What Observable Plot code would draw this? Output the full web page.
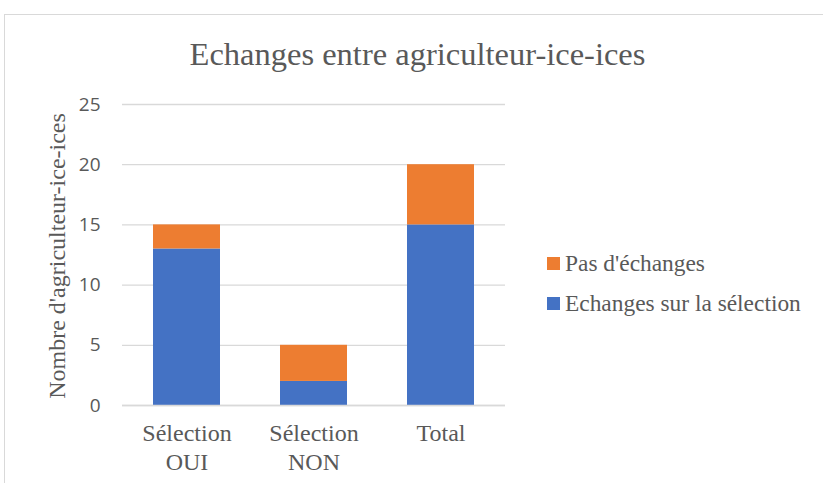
<!DOCTYPE html>
<html>
<head>
<meta charset="utf-8">
<script src="https://cdn.jsdelivr.net/npm/d3@7"></script>
<script src="https://cdn.jsdelivr.net/npm/@observablehq/plot@0.6"></script>
<style>
  html, body { margin: 0; padding: 0; background: #fff; }
  #wrap { position: relative; width: 823px; height: 483px; overflow: hidden; }
  #frame { position: absolute; left: 4px; top: 14px; width: 900px; height: 600px; border: 1px solid #d9d9d9; box-sizing: border-box; }
  .serif { font-family: "Liberation Serif", "Times New Roman", serif; }
  #title { position: absolute; left: 0; width: 835px; top: 34px; height: 40px; line-height: 40px; text-align: center; font-size: 32.5px; color: #595959; white-space: nowrap; }
  #ylabel { position: absolute; left: 57px; top: 256px; transform: translate(-50%, -50%) rotate(-90deg); font-size: 24px; line-height: 28px; color: #595959; white-space: nowrap; }
  #legend { position: absolute; left: 547px; top: 243px; font-size: 23.4px; color: #595959; }
  .li { display: flex; align-items: center; height: 40px; white-space: nowrap; }
  .sw { width: 13px; height: 13px; margin-right: 5px; }
  #chart { position: absolute; left: 0; top: 0; }
</style>
</head>
<body>
<div id="wrap">
  <div id="frame"></div>
  <div id="chart"></div>
  <div id="title" class="serif"></div>
  <div id="ylabel" class="serif"></div>
  <div id="legend" class="serif"></div>
</div>
<script>
const title = "Echanges entre agriculteur-ice-ices";
const yLabel = "Nombre d'agriculteur-ice-ices";
const categories = ["Sélection\nOUI", "Sélection\nNON", "Total"];
const seriesNames = ["Echanges sur la sélection", "Pas d'échanges"];
const seriesColors = ["#4472C4", "#ED7D31"];
const echanges = [13, 2, 15];
const pasEchanges = [2, 3, 5];
const yTicks = [0, 5, 10, 15, 20, 25];

const data = [];
categories.forEach((c, i) => {
  data.push({cat: c, series: seriesNames[0], value: echanges[i]});
  data.push({cat: c, series: seriesNames[1], value: pasEchanges[i]});
});

const plot = Plot.plot({
  width: 823,
  height: 483,
  marginLeft: 122,
  marginRight: 318,
  marginTop: 104,
  marginBottom: 78,
  style: { background: "transparent", overflow: "visible" },
  x: { domain: categories, paddingInner: 0.475, paddingOuter: 0.243, label: null },
  y: { domain: [0, 25], label: null },
  color: { domain: seriesNames, range: seriesColors },
  marks: [
    Plot.gridY(yTicks, { stroke: "#d9d9d9", strokeOpacity: 1, strokeWidth: 1.3 }),
    Plot.barY(data, Plot.stackY({ x: "cat", y: "value", fill: "series", order: seriesNames })),
    Plot.ruleY([0], { stroke: "#d9d9d9", strokeWidth: 1.3 }),
    Plot.axisY(yTicks, { tickSize: 0, tickPadding: 22, fontFamily: "Open Sans, sans-serif", fontSize: 19, fill: "#595959", label: null }),
    Plot.axisX({ tickSize: 0, tickPadding: 16, fontFamily: "Liberation Serif, Times New Roman, serif", fontSize: 24, lineHeight: 1.17, fill: "#595959", label: null })
  ]
});
document.getElementById("chart").appendChild(plot);
document.getElementById("title").textContent = title;
document.getElementById("ylabel").textContent = yLabel;

const legend = document.getElementById("legend");
[1, 0].forEach(i => {
  const row = document.createElement("div");
  row.className = "li";
  const sw = document.createElement("div");
  sw.className = "sw";
  sw.style.background = seriesColors[i];
  const t = document.createElement("span");
  t.textContent = seriesNames[i];
  row.appendChild(sw);
  row.appendChild(t);
  legend.appendChild(row);
});
</script>
</body>
</html>
